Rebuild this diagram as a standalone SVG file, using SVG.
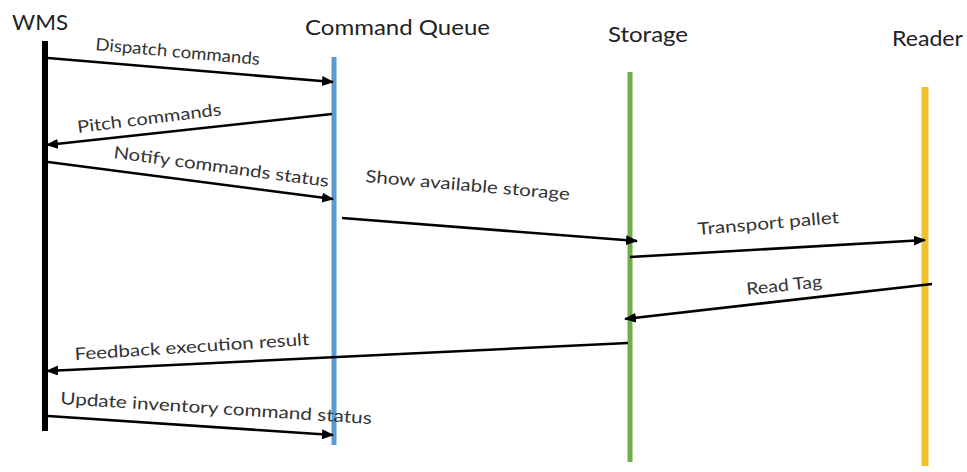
<svg xmlns="http://www.w3.org/2000/svg" width="967" height="472" viewBox="0 0 967 472">
<style>
.title{font-family:Lato,"Open Sans","Liberation Sans",sans-serif;font-size:21px;fill:#222}
.lbl{font-family:Lato,"Open Sans","Liberation Sans",sans-serif;font-size:17px;fill:#333}
.msg{stroke:#000;stroke-width:2.6;fill:none;marker-end:url(#ah)}
.life{fill:none}
</style>
<defs>
<marker id="ah" markerUnits="userSpaceOnUse" markerWidth="12" markerHeight="10" viewBox="0 0 12 10" refX="11" refY="5" orient="auto">
<path d="M0,0 L12,5 L0,10 Z" fill="#000"/>
</marker>
</defs>
<rect width="967" height="472" fill="#fff"/>
<g id="wms">
<line class="life" x1="45" y1="41" x2="45" y2="431" stroke="#000" stroke-width="6"/>
<text class="title" x="12" y="30" textLength="56" lengthAdjust="spacingAndGlyphs">WMS</text>
</g>
<g id="command-queue">
<line class="life" x1="334" y1="57" x2="334" y2="445" stroke="#5b9bd5" stroke-width="5"/>
<text class="title" x="305" y="35" textLength="185" lengthAdjust="spacingAndGlyphs">Command Queue</text>
</g>
<g id="storage">
<line class="life" x1="630" y1="72" x2="630" y2="462" stroke="#70ad47" stroke-width="5"/>
<text class="title" x="608" y="42" textLength="80" lengthAdjust="spacingAndGlyphs">Storage</text>
</g>
<g id="reader">
<line class="life" x1="925" y1="87" x2="925" y2="466" stroke="#f2c12e" stroke-width="7"/>
<text class="title" x="892" y="46" textLength="71" lengthAdjust="spacingAndGlyphs">Reader</text>
</g>
<g id="connectors">
<line class="msg" x1="48" y1="58" x2="333" y2="82"/>
<text class="lbl" x="95" y="50" transform="rotate(5.19 95 50)" textLength="165" lengthAdjust="spacingAndGlyphs">Dispatch commands</text>
<line class="msg" x1="332" y1="114" x2="47" y2="145"/>
<text class="lbl" x="78" y="133" transform="rotate(-7.1 78 133)" textLength="145" lengthAdjust="spacingAndGlyphs">Pitch commands</text>
<line class="msg" x1="48" y1="162" x2="333" y2="199"/>
<text class="lbl" x="113" y="158" transform="rotate(7.68 113 158)" textLength="217" lengthAdjust="spacingAndGlyphs">Notify commands status</text>
<line class="msg" x1="342" y1="218" x2="637" y2="241"/>
<text class="lbl" x="365" y="182" transform="rotate(5.02 365 182)" textLength="205" lengthAdjust="spacingAndGlyphs">Show available storage</text>
<line class="msg" x1="630" y1="257" x2="925" y2="240"/>
<text class="lbl" x="698" y="235" transform="rotate(-4.83 698 235)" textLength="142" lengthAdjust="spacingAndGlyphs">Transport pallet</text>
<line class="msg" x1="932" y1="284" x2="625" y2="319"/>
<text class="lbl" x="747" y="295" transform="rotate(-6 747 295)" textLength="76" lengthAdjust="spacingAndGlyphs">Read Tag</text>
<line class="msg" x1="628" y1="343" x2="47" y2="371"/>
<text class="lbl" x="75" y="360" transform="rotate(-3.65 75 360)" textLength="235" lengthAdjust="spacingAndGlyphs">Feedback execution result</text>
<line class="msg" x1="48" y1="416" x2="333" y2="435"/>
<text class="lbl" x="60" y="404" transform="rotate(3.67 60 404)" textLength="312" lengthAdjust="spacingAndGlyphs">Update inventory command status</text>
</g>
</svg>
